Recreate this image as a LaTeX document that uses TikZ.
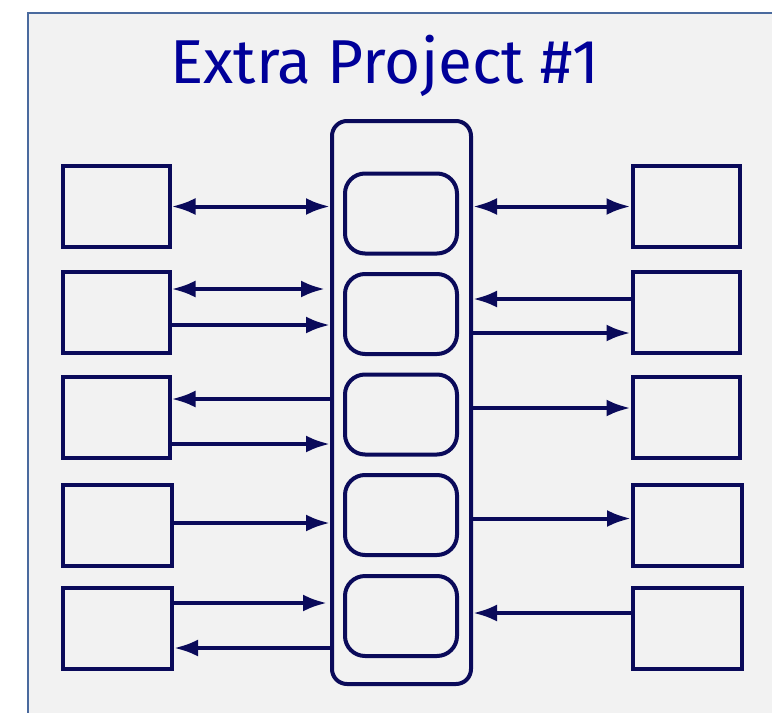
\documentclass[tikz,border=0pt]{standalone}
\usepackage{fontspec}
\setmainfont{Fira Sans}
\usetikzlibrary{arrows.meta,positioning}
\definecolor{navy}{HTML}{0A0A5A}
\definecolor{titleblue}{HTML}{000099}
\definecolor{panel}{HTML}{F2F2F2}
\definecolor{panelline}{HTML}{4A6A9E}

\begin{document}
\begin{tikzpicture}[x=1pt,y=-1pt,>={Latex[length=24pt,width=17pt]},
  unit/.style={draw=navy,line width=4pt,minimum width=107pt,minimum height=81pt},
  slot/.style={draw=navy,line width=4pt,rounded corners=20pt,minimum width=112pt,minimum height=80pt},
  link/.style={navy,line width=4pt}]
\clip (0,0) rectangle (772,713);
\fill[panel] (28,13) rectangle (790,730);
\draw[panelline,line width=2.5pt] (28,730) -- (28,13) -- (790,13);
\node[titleblue,font=\fontsize{62}{66}\selectfont] (title) at (385,66) {Extra Project \#1};
\node[draw=navy,line width=4pt,rounded corners=15pt,minimum width=139pt,minimum height=563pt] (bus) at (401.5,402.5) {};
\node[slot] (m1) at (401,213.5) {};
\node[slot] (m2) at (401,314) {};
\node[slot] (m3) at (401,414.5) {};
\node[slot] (m4) at (401,515) {};
\node[slot] (m5) at (401,616) {};
\node[unit] (l1) at (116,206.5) {};
\node[unit] (l2) at (116,312) {};
\node[unit] (l3) at (116,417.5) {};
\node[unit,minimum width=109pt] (l4) at (117.5,525.5) {};
\node[unit,minimum width=109pt] (l5) at (117.5,628) {};
\node[unit] (r1) at (686,206.5) {};
\node[unit] (r2) at (686,312) {};
\node[unit] (r3) at (686,417.5) {};
\node[unit,minimum width=109pt] (r4) at (687.5,525.5) {};
\node[unit,minimum width=109pt] (r5) at (687.5,628) {};
\draw[link,<->] (l1.east) -- (l1.east -| bus.west);
\draw[link,<->,shorten >=5pt] ([yshift=23pt]l2.east) -- ([yshift=23pt]l2.east -| bus.west);
\draw[link,->] ([yshift=-13pt]l2.east) -- ([yshift=-13pt]l2.east -| bus.west);
\draw[link,->] ([yshift=18.5pt]l3.east -| bus.west) -- ([yshift=18.5pt]l3.east);
\draw[link,->] ([yshift=-26.5pt]l3.east) -- ([yshift=-26.5pt]l3.east -| bus.west);
\draw[link,->] ([yshift=2.5pt]l4.east) -- ([yshift=2.5pt]l4.east -| bus.west);
\draw[link,->,shorten >=3pt] ([yshift=25pt]l5.east) -- ([yshift=25pt]l5.east -| bus.west);
\draw[link,->] ([yshift=-20pt]l5.east -| bus.west) -- ([yshift=-20pt]l5.east);
\draw[link,<->] (r1.west -| bus.east) -- (r1.west);
\draw[link,->] ([yshift=13pt]r2.west) -- ([yshift=13pt]r2.west -| bus.east);
\draw[link,->] ([yshift=-21pt]r2.west -| bus.east) -- ([yshift=-21pt]r2.west);
\draw[link,->] ([yshift=9.5pt]r3.west -| bus.east) -- ([yshift=9.5pt]r3.west);
\draw[link,->] ([yshift=7pt]r4.west -| bus.east) -- ([yshift=7pt]r4.west);
\draw[link,->] ([yshift=15pt]r5.west) -- ([yshift=15pt]r5.west -| bus.east);
\end{tikzpicture}
\end{document}
